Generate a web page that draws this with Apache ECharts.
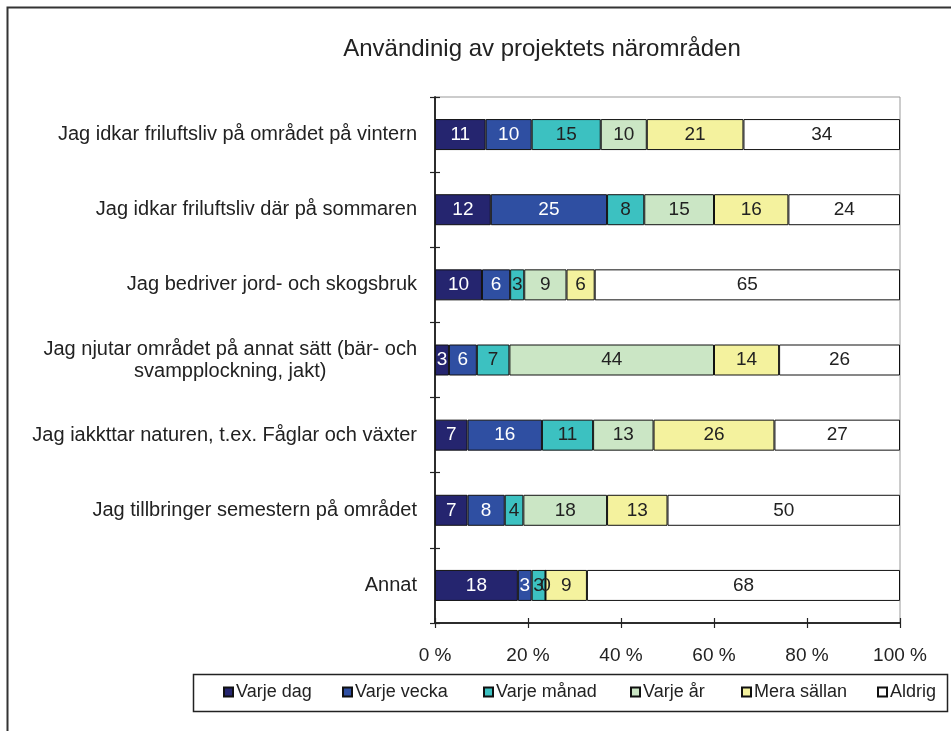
<!DOCTYPE html>
<html>
<head>
<meta charset="utf-8">
<script src="https://cdn.jsdelivr.net/npm/echarts@6/dist/echarts.min.js"></script>
<style>html,body{margin:0;padding:0;background:#fff}#c{width:951px;height:731px}</style>
</head>
<body>
<div id="c"></div>
<script>
const titleText = 'Användinig av projektets närområden';
const categories = [
  'Jag idkar friluftsliv på området på vintern',
  'Jag idkar friluftsliv där på sommaren',
  'Jag bedriver jord- och skogsbruk',
  'Jag njutar området på annat sätt (bär- och\nsvampplockning, jakt)',
  'Jag iakkttar naturen, t.ex. Fåglar och växter',
  'Jag tillbringer semestern på området',
  'Annat'
];
const seriesNames = ['Varje dag', 'Varje vecka', 'Varje månad', 'Varje år', 'Mera sällan', 'Aldrig'];
const varjeDag   = [11, 12, 10, 3, 7, 7, 18];
const varjeVecka = [10, 25, 6, 6, 16, 8, 3];
const varjeManad = [15, 8, 3, 7, 11, 4, 3];
const varjeAr    = [10, 15, 9, 44, 13, 18, 0];
const meraSallan = [21, 16, 6, 14, 26, 13, 9];
const aldrig     = [34, 24, 65, 26, 27, 50, 68];
const xTicks = ['0 %', '20 %', '40 %', '60 %', '80 %', '100 %'];

const colors = ['#25256F', '#2F4FA2', '#3CC1C1', '#CBE6C5', '#F4F29E', '#FFFFFF'];
const labelColors = ['#fff', '#fff', '#222', '#222', '#222', '#222'];
const allSeries = [varjeDag, varjeVecka, varjeManad, varjeAr, meraSallan, aldrig];
const totals = categories.map((_, i) => allSeries.reduce((s, arr) => s + arr[i], 0));

const FONT = 'Liberation Sans, Arial, sans-serif';
const legendX = [223, 342, 483, 630, 741, 877];

const chart = echarts.init(document.getElementById('c'), null, {renderer: 'canvas'});

const yCommon = {
  type: 'category',
  data: categories,
  inverse: true,
  axisLine: {show: true, lineStyle: {color: '#222', width: 1.5}},
  axisTick: {show: true, length: 5, lineStyle: {color: '#222', width: 1.2}}
};

const xCommon = {
  type: 'value',
  min: 0, max: 100, interval: 20,
  splitLine: {show: false},
  axisLine: {show: true, lineStyle: {color: '#222', width: 1.5}},
  axisTick: {show: true, length: 5, lineStyle: {color: '#222', width: 1.2}}
};

chart.setOption({
  backgroundColor: '#fff',
  animation: false,
  title: {
    text: titleText,
    left: 537, top: 32, textAlign: 'center',
    textStyle: {fontFamily: FONT, fontSize: 24, fontWeight: 'normal', color: '#222'}
  },
  legend: seriesNames.map((name, i) => ({
    data: [name],
    left: legendX[i], top: 683, padding: 0,
    itemWidth: 9, itemHeight: 9, itemGap: 0,
    icon: 'rect',
    textStyle: {fontFamily: FONT, fontSize: 18, color: '#222', padding: [0, 0, 0, -2]}
  })),
  grid: {
    left: 435, right: 51, top: 97, bottom: 108,
    show: true, borderColor: '#999', borderWidth: 1, backgroundColor: 'transparent'
  },
  xAxis: [
    Object.assign({}, xCommon, {
      axisLabel: {
        margin: 23, fontFamily: FONT, fontSize: 19, color: '#222',
        formatter: v => xTicks[Math.round(v / 20)]
      }
    }),
    Object.assign({}, xCommon, {
      position: 'bottom',
      axisTick: {show: true, inside: true, length: 5, lineStyle: {color: '#222', width: 1.2}},
      axisLabel: {show: false}
    })
  ],
  yAxis: [
    Object.assign({}, yCommon, {
      axisLabel: {
        margin: 18, fontFamily: FONT, fontSize: 20, color: '#222', lineHeight: 22,
        formatter: v => v.split('\n').map(l => '{c|' + l + '}').join('\n'),
        rich: {c: {align: 'center', fontFamily: FONT, fontSize: 20, color: '#222', lineHeight: 22}}
      }
    }),
    Object.assign({}, yCommon, {
      position: 'left',
      axisTick: {show: true, inside: true, length: 5, lineStyle: {color: '#222', width: 1.2}},
      axisLabel: {show: false}
    })
  ],
  series: seriesNames.map((name, si) => ({
    name: name,
    type: 'bar',
    stack: 'total',
    barWidth: 31,
    xAxisIndex: 0, yAxisIndex: 0,
    itemStyle: {color: colors[si], borderColor: '#111', borderWidth: 1},
    label: {
      show: true, position: 'inside',
      fontFamily: FONT, fontSize: 19, color: labelColors[si],
      formatter: p => String(allSeries[si][p.dataIndex])
    },
    data: allSeries[si].map((v, i) => v / totals[i] * 100)
  })),
  graphic: [
    {type: 'rect', shape: {x: 7.5, y: 7.5, width: 1000, height: 1000}, style: {fill: 'none', stroke: '#333', lineWidth: 2}, silent: true, z: -1},
    {type: 'rect', shape: {x: 193.5, y: 674.5, width: 754, height: 37}, style: {fill: 'none', stroke: '#222', lineWidth: 1.5}, silent: true, z: -1}
  ]
});
</script>
</body>
</html>
